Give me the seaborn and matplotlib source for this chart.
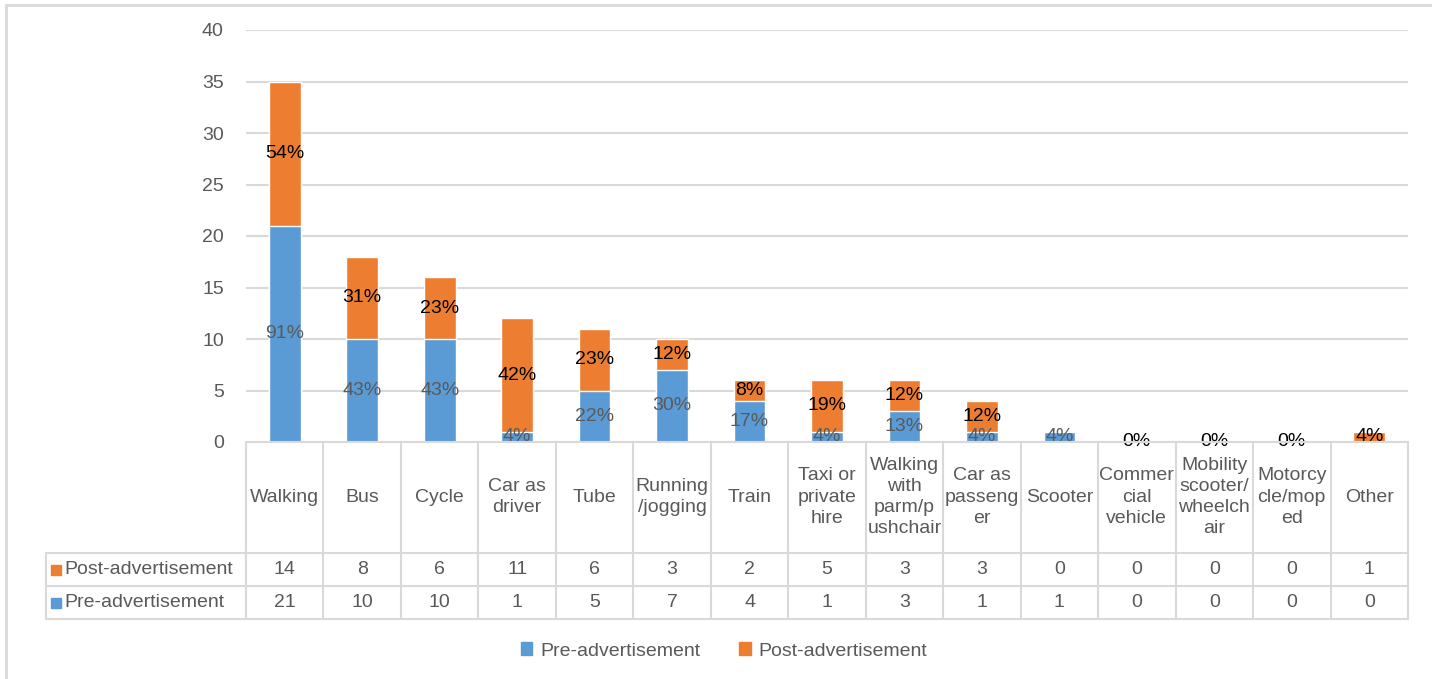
import matplotlib.pyplot as plt
import seaborn as sns
import pandas as pd
from matplotlib.lines import Line2D
from matplotlib.patches import Patch, Rectangle

categories = ["Walking", "Bus", "Cycle", "Car as\ndriver", "Tube", "Running\n/jogging",
              "Train", "Taxi or\nprivate\nhire", "Walking\nwith\nparm/p\nushchair",
              "Car as\npasseng\ner", "Scooter", "Commer\ncial\nvehicle",
              "Mobility\nscooter/\nwheelch\nair", "Motorcy\ncle/mop\ned", "Other"]
pre_values = [21, 10, 10, 1, 5, 7, 4, 1, 3, 1, 1, 0, 0, 0, 0]
post_values = [14, 8, 6, 11, 6, 3, 2, 5, 3, 3, 0, 0, 0, 0, 1]
pre_labels = ["91%", "43%", "43%", "4%", "22%", "30%", "17%", "4%", "13%", "4%", "4%", "", "", "", ""]
post_labels = ["54%", "31%", "23%", "42%", "23%", "12%", "8%", "19%", "12%", "12%", "", "0%", "0%", "0%", "4%"]

BLUE = "#5B9BD5"
ORANGE = "#ED7D31"
GRID = "#D9D9D9"
TXT = "#595959"
FS = 14

W, H = 1432, 679

def fx(px):
    return px / W

def fy(py):
    return 1 - py / H

sns.set_theme(style="white")
plt.rcParams["font.family"] = ["Liberation Sans", "DejaVu Sans"]

df = pd.DataFrame({
    "category": categories,
    "pre": pre_values,
    "post": post_values,
})
df["total"] = df["pre"] + df["post"]

fig = plt.figure(figsize=(W / 100, H / 100), dpi=100)
ax = fig.add_axes([fx(246), fy(442), fx(1408) - fx(246), fy(30) - fy(442)])

# stacked bars: total (orange) behind, pre (blue) in front
sns.barplot(data=df, x="category", y="total", color=ORANGE, width=0.41,
            saturation=1, ax=ax, zorder=3)
sns.barplot(data=df, x="category", y="pre", color=BLUE, width=0.41,
            saturation=1, ax=ax, zorder=4)

ax.set_ylim(0, 40)
ax.set_xlim(-0.5, len(categories) - 0.5)
ax.set_yticks(range(0, 41, 5))
ax.yaxis.grid(True, color=GRID, linewidth=1.5, zorder=0)
ax.set_axisbelow(True)
ax.set_xticks([])
ax.set_xlabel("")
ax.set_ylabel("")
ax.tick_params(axis="y", length=0, pad=16, labelsize=FS, labelcolor=TXT)
for s in ax.spines.values():
    s.set_visible(False)

# segment labels
for i in range(len(categories)):
    pre = pre_values[i]
    post = post_values[i]
    if pre_labels[i]:
        ax.text(i, pre / 2, pre_labels[i], ha="center", va="center",
                fontsize=FS, color=TXT, zorder=5)
    if post_labels[i]:
        ax.text(i, pre + post / 2, post_labels[i], ha="center", va="center",
                fontsize=FS, color="black", zorder=5)

# data table under the plot
col_w = (1408 - 246) / len(categories)
line_kw = dict(color=GRID, linewidth=1.5, transform=fig.transFigure)
fig.add_artist(Line2D([fx(246), fx(1408)], [fy(442), fy(442)], **line_kw))
for yy in [553, 586, 619]:
    fig.add_artist(Line2D([fx(46), fx(1408)], [fy(yy), fy(yy)], **line_kw))
fig.add_artist(Line2D([fx(46), fx(46)], [fy(553), fy(619)], **line_kw))
for i in range(len(categories) + 1):
    xx = 246 + i * col_w
    fig.add_artist(Line2D([fx(xx), fx(xx)], [fy(442), fy(619)], **line_kw))

for i, cat in enumerate(categories):
    cx = fx(246 + (i + 0.5) * col_w)
    fig.text(cx, fy(497), cat, ha="center", va="center", fontsize=FS,
             color=TXT, linespacing=1.33)
    fig.text(cx, fy(569.5), str(post_values[i]), ha="center", va="center",
             fontsize=FS, color=TXT)
    fig.text(cx, fy(602.5), str(pre_values[i]), ha="center", va="center",
             fontsize=FS, color=TXT)

for yy, name, col in [(569.5, "Post-advertisement", ORANGE), (602.5, "Pre-advertisement", BLUE)]:
    fig.add_artist(Rectangle((fx(51), fy(yy) - 5 / H), 10 / W, 10 / H,
                             color=col, transform=fig.transFigure))
    fig.text(fx(64), fy(yy), name, ha="left", va="center", fontsize=FS, color=TXT)

# legend
handles = [Patch(color=BLUE, label="Pre-advertisement"),
           Patch(color=ORANGE, label="Post-advertisement")]
fig.legend(handles=handles, loc="center", bbox_to_anchor=(fx(724), fy(651)), ncol=2,
           frameon=False, fontsize=FS, handlelength=0.6, handleheight=0.6,
           handletextpad=0.4, columnspacing=2.0, labelcolor=TXT)

# outer chart border (top and left visible)
fig.add_artist(Line2D([fx(6), fx(1432)], [fy(5), fy(5)], color=GRID, linewidth=2,
                      transform=fig.transFigure))
fig.add_artist(Line2D([fx(6), fx(6)], [fy(5), fy(679)], color=GRID, linewidth=2,
                      transform=fig.transFigure))

fig.savefig("out.png", dpi=100)
